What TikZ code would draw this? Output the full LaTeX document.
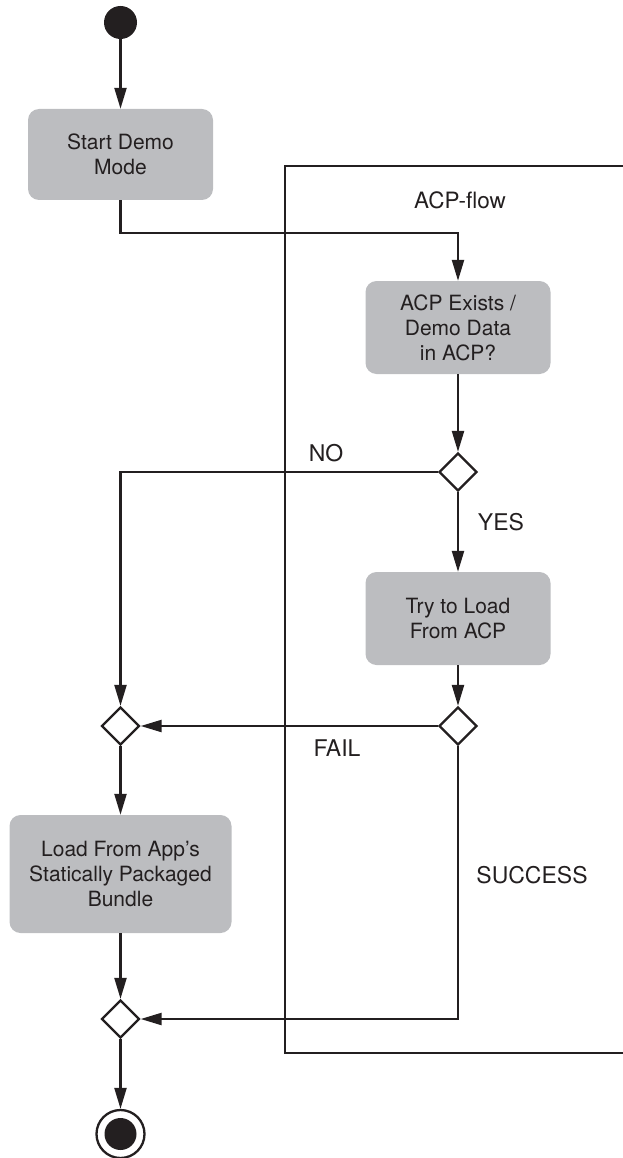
\documentclass[tikz,border=0pt]{standalone}
\usepackage{fontspec}
\setmainfont{TeX Gyre Heros}
\usetikzlibrary{arrows.meta,shapes.geometric}
\definecolor{boxgray}{HTML}{BCBDC0}
\definecolor{ink}{HTML}{231F20}
\tikzset{
  x=1pt, y=-1pt,
  line/.style={draw=ink, line width=2.3pt},
  arr/.style={line, -{Triangle[length=21pt,width=12pt]}},
  actbox/.style={draw=none, fill=boxgray, rounded corners=11pt, align=center,
     font=\fontsize{21}{25}\selectfont, text=ink, inner sep=0pt},
  decision/.style={diamond, draw=ink, line width=2.3pt, fill=white, minimum width=38pt, minimum height=38pt, inner sep=0pt},
  lbl/.style={font=\fontsize{23}{26}\selectfont, text=ink},
}
\begin{document}
\begin{tikzpicture}
\useasboundingbox (0,0) rectangle (622,1158);
% frame
\draw[line] (624,166) -- (285,166) -- (285,1053) -- (624,1053);
\node[font=\fontsize{22.5}{26}\selectfont, text=ink] (title) at (460,200) {ACP-flow};
% nodes
\node[circle, fill=ink, minimum size=33pt, inner sep=0pt] (start) at (120.5,22.5) {};
\node[actbox, minimum width=185pt, minimum height=91pt] (b1) at (120.5,154.5) {Start Demo\\Mode};
\node[actbox, minimum width=185pt, minimum height=93pt] (b2) at (458,327.5) {ACP Exists /\\Demo Data\\in ACP?};
\node[decision] (d1) at (458,472) {};
\node[actbox, minimum width=185pt, minimum height=93pt] (b3) at (458,618.5) {Try to Load\\From ACP};
\node[decision] (d2) at (458,726) {};
\node[decision] (d3) at (120.5,726) {};
\node[actbox, minimum width=222pt, minimum height=118pt] (b4) at (120.5,874) {Load From App’s\\Statically Packaged\\Bundle};
\node[decision] (d4) at (120.5,1019) {};
\node[circle, draw=ink, line width=2.3pt, minimum size=48pt, inner sep=0pt] (final) at (120.5,1134) {};
\node[circle, fill=ink, minimum size=32pt, inner sep=0pt] (finalin) at (final.center) {};
% connectors
\coordinate (j1) at (458,233);
\draw[arr] (start) -- (b1);
\draw[arr] (b1.south) |- (j1) -- (b2.north);
\draw[arr] (b2) -- (d1);
\draw[arr] (d1.west) -| (d3.north);
\node[lbl] (no) at (326,453) {NO};
\draw[arr] (d1) -- (b3);
\node[lbl] (yes) at (501,522) {YES};
\draw[arr] (b3) -- (d2);
\draw[arr] (d2.west) -- (d3.east);
\node[lbl] (fail) at (337,748) {FAIL};
\draw[arr] (d3) -- (b4);
\draw[arr] (b4) -- (d4);
\draw[arr] (d2.south) |- (d4.east);
\node[lbl] (succ) at (532,875) {SUCCESS};
\draw[arr] (d4) -- (final);
\end{tikzpicture}
\end{document}
